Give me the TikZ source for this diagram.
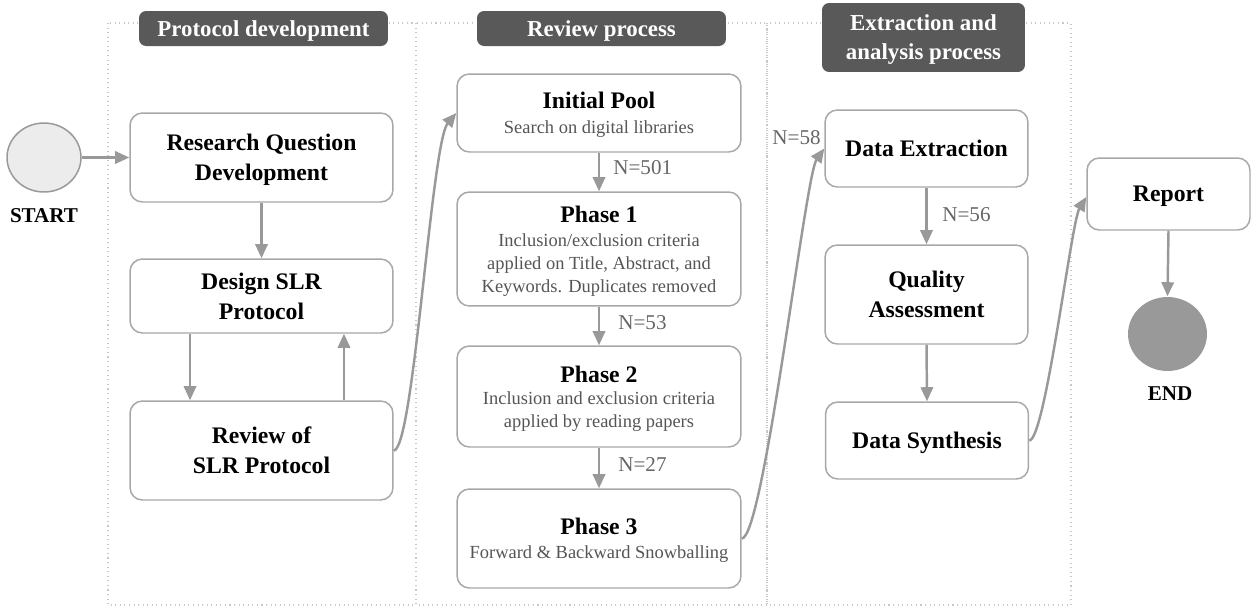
\documentclass[tikz,border=0pt]{standalone}
\usepackage{fontspec}
\setmainfont{Liberation Serif}
\usetikzlibrary{arrows.meta,shapes.geometric}
\definecolor{linegray}{HTML}{999999}
\definecolor{boxgray}{HTML}{A8A8A8}
\definecolor{hdrgray}{HTML}{595959}
\definecolor{subgray}{HTML}{555555}
\definecolor{labgray}{HTML}{666666}
\definecolor{dotgray}{HTML}{C8C8C8}
\definecolor{startfill}{HTML}{ECECEC}
\newcommand\ttlf{\fontsize{13.5}{17}\selectfont\bfseries\color{black}}
\newcommand\subf{\fontsize{10.5}{12.5}\selectfont\mdseries\color{subgray}}
\begin{document}
\begin{tikzpicture}[x=0.02cm,y=-0.02cm,
  box/.style={draw=boxgray, line width=0.85pt, rounded corners=7pt, fill=white, align=center, inner sep=2pt, font=\ttlf, text depth=0pt},
  hdr/.style={fill=hdrgray, rounded corners=4pt, text=white, font=\fontsize{13}{16.5}\selectfont\bfseries, align=center, inner sep=0pt, text depth=0pt},
  cont/.style={draw=dotgray, line width=0.6pt, dotted},
  arr/.style={draw=linegray, line width=1.4pt, -{Triangle[length=8pt,width=7pt]}},
  nlab/.style={text=labgray, font=\fontsize{12}{14}\selectfont, inner sep=0pt},
  term/.style={ellipse, draw=linegray, line width=0.85pt, inner sep=0pt},
  termlab/.style={font=\fontsize{12}{14}\selectfont\bfseries, inner sep=0pt}]
\useasboundingbox (0,0) rectangle (1257,609);
% containers
\draw[cont] (108,23) rectangle (416,605);
\draw[cont] (416,23) rectangle (767,605);
\draw[cont] (767,23) rectangle (1071,605);
% headers
\node[hdr, minimum width=4.98cm, minimum height=0.7cm] (h1) at (263.5,28.5) {Protocol development};
\node[hdr, minimum width=4.98cm, minimum height=0.7cm] (h2) at (601.5,28.5) {Review process};
\node[hdr, minimum width=4.06cm, minimum height=1.38cm] (h3) at (923.5,37.5) {Extraction and\\analysis process};
% start / end
\node[term, fill=startfill, minimum width=1.48cm, minimum height=1.38cm] (start) at (44,157.5) {};
\node[termlab] (startlab) at (44,216) {START};
\node[term, fill=linegray, draw=none, minimum width=1.58cm, minimum height=1.48cm] (end) at (1167.5,334) {};
\node[termlab] (endlab) at (1170,394) {END};
% protocol development
\node[box, minimum width=5.26cm, minimum height=1.78cm] (rqd) at (261.5,157.5) {Research Question\\Development};
\node[box, minimum width=5.26cm, minimum height=1.48cm] (dslr) at (261.5,296) {Design SLR\\Protocol};
\node[box, minimum width=5.26cm, minimum height=1.98cm] (rslr) at (261.5,450.5) {Review of\\SLR Protocol};
% review process
\node[box, minimum width=5.68cm, minimum height=1.56cm] (pool) at (599,113) {Initial Pool\\[-2.7pt]\subf Search on digital libraries};
\node[box, minimum width=5.68cm, minimum height=2.28cm] (ph1) at (599,249) {Phase 1\\[-3.1pt]\subf Inclusion/exclusion criteria\\[-4pt]\subf applied on Title, Abstract, and\\[-4pt]\subf Keywords. Duplicates removed};
\node[box, minimum width=5.68cm, minimum height=2.02cm] (ph2) at (599,396.5) {Phase 2\\[-4.2pt]\subf Inclusion and exclusion criteria\\[-4pt]\subf applied by reading papers};
\node[box, minimum width=5.68cm, minimum height=1.98cm] (ph3) at (599,538.5) {Phase 3\\[-3.3pt]\subf Forward \& Backward Snowballing};
% extraction
\node[box, minimum width=4.06cm, minimum height=1.54cm] (dext) at (926.5,148.5) {Data Extraction};
\node[box, minimum width=4.06cm, minimum height=1.98cm] (qa) at (926.5,294.5) {Quality\\Assessment};
\node[box, minimum width=4.06cm, minimum height=1.54cm] (dsyn) at (927,440.5) {Data Synthesis};
\node[box, minimum width=3.26cm, minimum height=1.44cm] (rep) at (1168.5,194) {Report};
% labels
\node[nlab, anchor=west] (n501) at (613,168) {N=501};
\node[nlab, anchor=west] (n53) at (618,323) {N=53};
\node[nlab, anchor=west] (n27) at (618,465) {N=27};
\node[nlab, anchor=west] (n56) at (942,215) {N=56};
\node[nlab, anchor=east] (n58) at (821,138) {N=58};
% connectors
\draw[arr] (start.east) -- (rqd.west);
\draw[arr] (rqd.south) -- (dslr.north);
\draw[arr] ([xshift=-1.43cm]dslr.south) -- ([xshift=-1.43cm]rslr.north);
\draw[arr] ([xshift=1.65cm]rslr.north) -- ([xshift=1.65cm]dslr.south);
\draw[arr] (rslr.east) .. controls +(20,0) and +(-25,30) .. (pool.west);
\draw[arr] (pool.south) -- (ph1.north);
\draw[arr] (ph1.south) -- (ph2.north);
\draw[arr] (ph2.south) -- (ph3.north);
\draw[arr] (ph3.east) .. controls +(22,0) and +(-19,27) .. (dext.west);
\draw[arr] (dext.south) -- (qa.north);
\draw[arr] (qa.south) -- (dsyn.north);
\draw[arr] (dsyn.east) .. controls +(16,0) and +(-15,25) .. ([yshift=-0.06cm]rep.west);
\draw[arr] (rep.south) -- (end.north);
\end{tikzpicture}
\end{document}
